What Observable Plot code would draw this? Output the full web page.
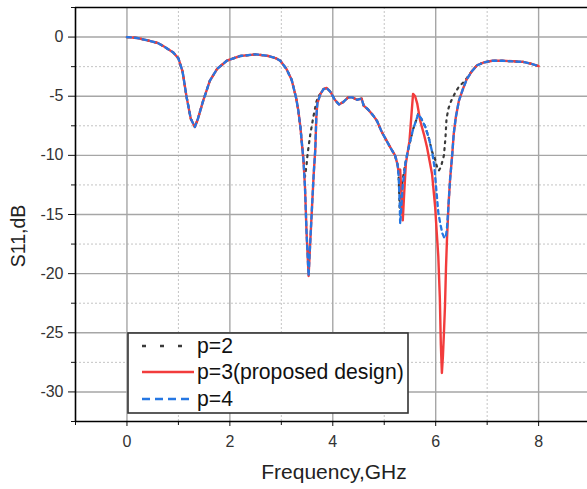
<!DOCTYPE html>
<html>
<head>
<meta charset="utf-8">
<script src="https://cdn.jsdelivr.net/npm/d3@7"></script>
<script src="https://cdn.jsdelivr.net/npm/@observablehq/plot@0.6"></script>
<style>
  html, body { margin: 0; padding: 0; background: #fff; }
  #chart { width: 587px; height: 489px; }
</style>
</head>
<body>
<div id="chart"></div>
<script>
// ---------- data ----------
const seriesNames = ["p=2", "p=3(proposed design)", "p=4"];

const freqP4 = [0,0.2,0.4,0.6,0.72,0.9,1.0,1.08,1.16,1.24,1.32,1.38,1.48,1.61,1.75,1.94,2.2,2.5,2.75,2.9,2.98,3.1,3.2,3.24,3.29,3.33,3.37,3.43,3.46,3.49,3.53,3.56,3.59,3.63,3.66,3.68,3.70,3.76,3.82,3.88,3.95,4.04,4.12,4.2,4.3,4.38,4.47,4.56,4.6,4.68,4.78,4.86,4.95,5.05,5.14,5.21,5.26,5.28,5.30,5.31,5.33,5.36,5.41,5.46,5.51,5.56,5.60,5.66,5.72,5.80,5.87,5.93,5.97,5.99,6.02,6.05,6.09,6.13,6.17,6.20,6.22,6.25,6.28,6.32,6.35,6.39,6.45,6.52,6.6,6.7,6.8,6.93,7.1,7.3,7.5,7.7,7.85,8.0];
const dbP4   = [0,-0.08,-0.28,-0.5,-0.8,-1.3,-1.8,-2.9,-5.1,-6.9,-7.6,-6.9,-5.4,-3.7,-2.7,-2.0,-1.6,-1.46,-1.6,-1.8,-2.0,-2.7,-3.6,-4.3,-5.2,-6.2,-7.6,-10.4,-12.7,-16.5,-20.2,-17.5,-14.9,-11.5,-9.5,-6.8,-5.6,-4.8,-4.4,-4.3,-4.6,-5.3,-5.7,-5.5,-5.1,-5.1,-5.3,-5.2,-5.8,-6.1,-6.6,-7.1,-8.0,-8.8,-9.5,-10.0,-10.8,-11.8,-14.0,-15.8,-14.5,-12.5,-10.7,-9.6,-8.7,-7.8,-7.3,-6.5,-6.9,-7.6,-8.6,-9.7,-10.8,-11.8,-13.3,-14.8,-15.8,-16.6,-17.0,-16.8,-16.1,-14.1,-12.0,-10.0,-8.2,-6.8,-5.4,-4.5,-3.6,-2.9,-2.4,-2.15,-2.0,-2.0,-2.05,-2.1,-2.25,-2.45];

const freqP3 = [0,0.2,0.4,0.6,0.72,0.9,1.0,1.08,1.16,1.24,1.32,1.38,1.48,1.61,1.75,1.94,2.2,2.5,2.75,2.9,2.98,3.1,3.2,3.24,3.29,3.33,3.37,3.43,3.46,3.49,3.53,3.56,3.59,3.63,3.66,3.68,3.70,3.76,3.82,3.88,3.95,4.04,4.12,4.2,4.3,4.38,4.47,4.56,4.6,4.68,4.78,4.86,4.95,5.05,5.14,5.21,5.26,5.28,5.31,5.33,5.36,5.39,5.42,5.49,5.53,5.56,5.60,5.64,5.70,5.77,5.83,5.93,5.99,6.02,6.05,6.08,6.10,6.12,6.14,6.16,6.18,6.20,6.22,6.25,6.28,6.32,6.35,6.39,6.45,6.52,6.6,6.7,6.8,6.93,7.1,7.3,7.5,7.7,7.85,8.0];
const dbP3   = [0,-0.08,-0.28,-0.5,-0.8,-1.3,-1.8,-2.9,-5.1,-6.9,-7.6,-6.9,-5.4,-3.7,-2.7,-2.0,-1.6,-1.46,-1.6,-1.8,-2.0,-2.7,-3.6,-4.3,-5.2,-6.2,-7.6,-10.4,-12.7,-16.5,-20.2,-17.5,-14.9,-11.5,-9.5,-6.8,-5.6,-4.8,-4.4,-4.3,-4.6,-5.3,-5.7,-5.5,-5.1,-5.1,-5.3,-5.2,-5.8,-6.1,-6.6,-7.1,-8.0,-8.8,-9.5,-10.0,-10.8,-11.5,-11.2,-13.0,-15.5,-13.0,-10.7,-8.8,-6.5,-4.8,-5.0,-5.6,-7.1,-8.2,-9.3,-11.6,-14.4,-16.5,-18.5,-22.0,-26.0,-28.4,-27.0,-25.0,-22.8,-19.5,-17.0,-14.1,-12.0,-10.0,-8.2,-6.8,-5.4,-4.5,-3.6,-2.9,-2.4,-2.15,-2.0,-2.0,-2.05,-2.1,-2.25,-2.45];

const freqP2 = [0,0.2,0.4,0.6,0.72,0.9,1.0,1.08,1.16,1.24,1.32,1.38,1.48,1.61,1.75,1.94,2.2,2.5,2.75,2.9,2.98,3.1,3.2,3.24,3.29,3.33,3.37,3.43,3.46,3.49,3.51,3.56,3.62,3.68,3.72,3.76,3.82,3.88,3.95,4.04,4.12,4.2,4.3,4.38,4.47,4.56,4.6,4.68,4.78,4.86,4.95,5.05,5.14,5.21,5.26,5.28,5.30,5.32,5.36,5.41,5.46,5.51,5.56,5.60,5.66,5.72,5.80,5.87,5.93,5.98,6.02,6.06,6.10,6.16,6.19,6.21,6.25,6.30,6.38,6.45,6.52,6.6,6.7,6.8,6.93,7.1,7.3,7.5,7.7,7.85,8.0];
const dbP2   = [0,-0.08,-0.28,-0.5,-0.8,-1.3,-1.8,-2.9,-5.1,-6.9,-7.6,-6.9,-5.4,-3.7,-2.7,-2.0,-1.6,-1.46,-1.6,-1.8,-2.0,-2.7,-3.6,-4.3,-5.2,-6.2,-7.6,-10.4,-11.8,-10.8,-9.9,-8.3,-6.8,-5.5,-5.0,-4.8,-4.4,-4.3,-4.6,-5.3,-5.7,-5.5,-5.1,-5.1,-5.3,-5.2,-5.8,-6.1,-6.6,-7.1,-8.0,-8.8,-9.5,-10.0,-10.8,-11.8,-14.5,-13.5,-12.0,-10.7,-9.6,-8.7,-7.8,-7.3,-6.5,-6.9,-7.6,-8.6,-9.7,-10.2,-10.9,-11.3,-11.0,-10.0,-8.5,-6.9,-6.0,-5.4,-4.7,-4.2,-3.9,-3.5,-2.9,-2.4,-2.15,-2.0,-2.0,-2.05,-2.1,-2.25,-2.45];

const xDomain = [-1, 8.95];
const yDomain = [-32.5, 2.5];
const xMajor = [0, 2, 4, 6, 8];
const xMinor = [-1, 1, 3, 5, 7];
const yMajor = [0, -5, -10, -15, -20, -25, -30];
const yMinor = [2.5, -2.5, -7.5, -12.5, -17.5, -22.5, -27.5, -32.5];
const xTitle = "Frequency,GHz";
const yTitle = "S11,dB";

// ---------- build ----------
const toRows = (fs, ds) => fs.map((f, i) => ({f, db: ds[i]}));
const rowsP2 = toRows(freqP2, dbP2);
const rowsP3 = toRows(freqP3, dbP3);
const rowsP4 = toRows(freqP4, dbP4);

const styles = [
  {stroke: "#3a3a3a", strokeWidth: 2.2, strokeDasharray: "2,5", legendDash: "4,14"},
  {stroke: "#f23c3c", strokeWidth: 2.4, strokeDasharray: null, legendDash: null},
  {stroke: "#2577e3", strokeWidth: 2.3, strokeDasharray: "4,4", legendDash: "8,5"}
];

const fontFamily = "'Liberation Sans', Arial, Helvetica, sans-serif";

const chart = Plot.plot({
  width: 587,
  height: 489,
  marginLeft: 75,
  marginRight: 0,
  marginTop: 7,
  marginBottom: 68,
  x: {domain: xDomain, axis: null},
  y: {domain: yDomain, axis: null},
  style: {fontFamily, fontSize: "16px", color: "#333", background: "#fff", overflow: "visible"},
  marks: [
    Plot.ruleX(xMinor, {stroke: "#c4c4c4", strokeWidth: 1, strokeDasharray: "2,2"}),
    Plot.ruleY(yMinor, {stroke: "#c4c4c4", strokeWidth: 1, strokeDasharray: "2,2"}),
    Plot.ruleX(xMajor, {stroke: "#a6a6a6", strokeWidth: 1.4}),
    Plot.ruleY(yMajor, {stroke: "#a6a6a6", strokeWidth: 1.4}),
    Plot.line(rowsP2, {x: "f", y: "db", stroke: styles[0].stroke, strokeWidth: styles[0].strokeWidth, strokeDasharray: styles[0].strokeDasharray}),
    Plot.line(rowsP3, {x: "f", y: "db", stroke: styles[1].stroke, strokeWidth: styles[1].strokeWidth}),
    Plot.line(rowsP4, {x: "f", y: "db", stroke: styles[2].stroke, strokeWidth: styles[2].strokeWidth, strokeDasharray: styles[2].strokeDasharray}),
    Plot.axisY({ticks: yMajor, label: null, tickSize: 7, tickPadding: 5, tickFormat: d => String(d), stroke: "#111", fill: "#333"}),
    Plot.axisY({ticks: yMinor, label: null, tickSize: 4, tickFormat: () => "", stroke: "#111"}),
    Plot.axisX({ticks: xMajor, label: null, tickSize: 5, tickPadding: 9, tickFormat: d => String(d), stroke: "#111", fill: "#333"}),
    Plot.axisX({ticks: xMinor, label: null, tickSize: 4, tickFormat: () => "", stroke: "#111"}),
    Plot.ruleX([xDomain[0]], {stroke: "#000", strokeWidth: 1.6}),
    Plot.ruleY([yDomain[1]], {stroke: "#000", strokeWidth: 1.6}),
    Plot.ruleY([yDomain[0]], {stroke: "#000", strokeWidth: 1.6})
  ]
});

document.getElementById("chart").appendChild(chart);

// axis titles and legend, appended to the same SVG
const svg = d3.select(chart);
svg.append("text")
  .attr("x", 334).attr("y", 479)
  .attr("text-anchor", "middle")
  .attr("font-family", fontFamily).attr("font-size", 21).attr("fill", "#222")
  .text(xTitle);
svg.append("text")
  .attr("transform", "translate(25,236) rotate(-90)")
  .attr("text-anchor", "middle")
  .attr("font-family", fontFamily).attr("font-size", 19.5).attr("fill", "#222")
  .text(yTitle);

const lg = svg.append("g").attr("transform", "translate(128,333)");
lg.append("rect").attr("width", 280).attr("height", 80)
  .attr("fill", "#fff").attr("stroke", "#333").attr("stroke-width", 1.6);
const rowY = [13, 39, 66];
seriesNames.forEach((name, i) => {
  lg.append("line")
    .attr("x1", 14).attr("x2", 66).attr("y1", rowY[i]).attr("y2", rowY[i])
    .attr("stroke", styles[i].stroke).attr("stroke-width", 2.4)
    .attr("stroke-dasharray", styles[i].legendDash);
  lg.append("text")
    .attr("x", 69).attr("y", rowY[i] + 7)
    .attr("text-anchor", "start")
    .attr("font-family", fontFamily).attr("font-size", 21.2).attr("fill", "#111")
    .text(name);
});
</script>
</body>
</html>
